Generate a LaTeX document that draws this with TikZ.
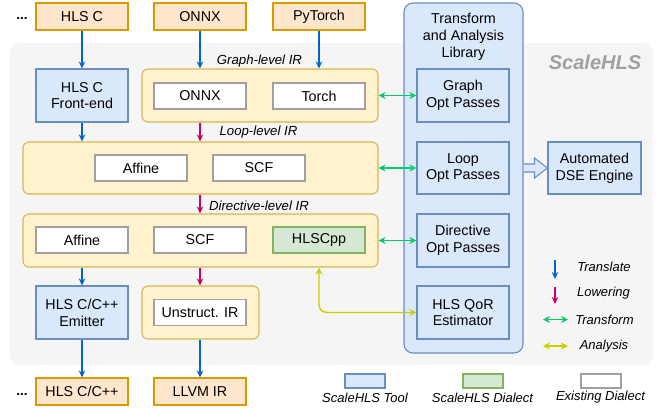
\documentclass[tikz,border=0pt]{standalone}
\usepackage{fontspec}
\setmainfont{Liberation Sans}
\usetikzlibrary{arrows.meta,calc}
\definecolor{orF}{HTML}{FFE6CC}
\definecolor{orD}{HTML}{D79B00}
\definecolor{blF}{HTML}{DAE8FC}
\definecolor{blD}{HTML}{6C8EBF}
\definecolor{ylF}{HTML}{FFF2CC}
\definecolor{ylD}{HTML}{D6B656}
\definecolor{gnF}{HTML}{D5E8D4}
\definecolor{gnD}{HTML}{82B366}
\definecolor{grD}{HTML}{A0A0A0}
\definecolor{bgF}{HTML}{F5F5F5}
\definecolor{trC}{HTML}{0066CC}
\definecolor{lwC}{HTML}{CC0066}
\definecolor{tfC}{HTML}{00CC66}
\definecolor{anC}{HTML}{CCCC00}
\definecolor{shC}{HTML}{A0A0A0}
\begin{document}
\begin{tikzpicture}[x=1pt,y=-1pt,
  box/.style={draw, line width=1.1pt, inner sep=0pt, align=center, text=black,
    font=\fontsize{14.3}{16.8}\selectfont},
  orbox/.style={box, fill=orF, draw=orD, minimum width=92pt, minimum height=27pt},
  blbox/.style={box, fill=blF, draw=blD, minimum width=92pt, minimum height=53pt},
  ylbox/.style={box, fill=ylF, draw=ylD, rounded corners=6pt},
  whbox/.style={box, fill=white, draw=grD, minimum width=92pt, minimum height=26pt},
  gnbox/.style={box, fill=gnF, draw=gnD, minimum width=92pt, minimum height=26pt},
  lbl/.style={font=\fontsize{13.2}{15}\selectfont\itshape, inner sep=0pt},
  lgl/.style={font=\fontsize{13}{15}\selectfont\itshape, inner sep=0pt},
  tr/.style={draw=trC, line width=1.4pt, -{Stealth[length=7pt,width=6.5pt]}},
  lw/.style={draw=lwC, line width=1.4pt, -{Stealth[length=7pt,width=6.5pt]}},
  tf/.style={draw=tfC, line width=1.4pt, {Stealth[length=7pt,width=7pt]}-{Stealth[length=7pt,width=7pt]}},
  an/.style={draw=anC, line width=1.4pt, rounded corners=8pt, {Stealth[length=7pt,width=7pt]}-{Stealth[length=7pt,width=7pt]}}
]
\useasboundingbox (0,0) rectangle (657,408);
% background
\fill[bgF, rounded corners=9pt] (10,43) rectangle (653,365);
\node[font=\fontsize{20}{24}\selectfont\bfseries\itshape, text=shC, inner sep=0pt] (title) at (595,62) {ScaleHLS};

% library
\node[box, fill=blF, draw=blD, rounded corners=9pt, minimum width=119pt, minimum height=350pt] (lib) at (463.5,178) {};
\node[box, draw=none, fill=none] (libt) at (463.5,37) {Transform\\and Analysis\\Library};
\node[blbox] (gopt) at (463,95.5) {Graph\\Opt Passes};
\node[blbox, minimum height=52pt] (lopt) at (463,168) {Loop\\Opt Passes};
\node[blbox] (dopt) at (463,240.5) {Directive\\Opt Passes};
\node[blbox] (qor) at (463,312.5) {HLS QoR\\Estimator};
\node[blbox, minimum width=93pt, minimum height=52pt] (dse) at (594.5,168) {Automated\\DSE Engine};

% inputs
\node[inner sep=0pt, font=\fontsize{13.5}{16}\selectfont\bfseries] (dots1) at (22,18) {...};
\node[orbox] (inHLSC) at (82,16.5) {HLS C};
\node[orbox] (inONNX) at (200,16.5) {ONNX};
\node[orbox] (inPyT) at (319,16.5) {PyTorch};

% graph level
\node[blbox] (fe) at (82,95.5) {HLS C\\Front-end};
\node[ylbox, minimum width=236pt, minimum height=53pt] (graphIR) at (260,95.5) {};
\node[whbox] (gONNX) at (200,96) {ONNX};
\node[whbox] (gTorch) at (319,96) {Torch};
\node[lbl] (glbl) at (259.5,61) {Graph-level IR};

% loop level
\node[ylbox, minimum width=355pt, minimum height=52pt] (loopIR) at (200.5,168) {};
\node[whbox] (lAff) at (141,168) {Affine};
\node[whbox] (lSCF) at (259,168) {SCF};
\node[lbl] (llbl) at (258.5,132) {Loop-level IR};

% directive level
\node[ylbox, minimum width=355pt, minimum height=53pt] (dirIR) at (200.5,240.5) {};
\node[whbox] (dAff) at (82,240) {Affine};
\node[whbox] (dSCF) at (200,240) {SCF};
\node[gnbox] (dHLS) at (319,240) {HLSCpp};
\node[lbl] (dlbl) at (259,205.5) {Directive-level IR};

% lower
\node[blbox] (emit) at (82,312.5) {HLS C/C++\\Emitter};
\node[ylbox, minimum width=117pt, minimum height=53pt] (unst) at (200.5,312.5) {};
\node[whbox] (uIR) at (200,312.5) {Unstruct. IR};

% outputs
\node[inner sep=0pt, font=\fontsize{13.5}{16}\selectfont\bfseries] (dots2) at (22,394) {...};
\node[orbox] (oHLS) at (82,391.5) {HLS C/C++};
\node[orbox] (oLLVM) at (200,391.5) {LLVM IR};

% arrows
\draw[tr] (inHLSC.south) -- (fe.north);
\draw[tr] (inONNX.south) -- (graphIR.north -| inONNX);
\draw[tr] (inPyT.south) -- (graphIR.north -| inPyT);
\draw[tr] (fe.south) -- (loopIR.north -| fe);
\draw[lw] (graphIR.south -| gONNX) -- (loopIR.north -| gONNX);
\draw[lw] (loopIR.south -| gONNX) -- (dirIR.north -| gONNX);
\draw[tr] (dirIR.south -| emit) -- (emit.north);
\draw[lw] (dirIR.south -| uIR) -- (uIR |- unst.north);
\draw[tr] (emit.south) -- (oHLS.north);
\draw[tr] (uIR |- unst.south) -- (oLLVM.north);

\draw[tf] (graphIR.east |- gopt.west) -- (gopt.west);
\draw[tf] (loopIR.east |- lopt.west) -- (lopt.west);
\draw[tf] (dirIR.east |- dopt.west) -- (dopt.west);
\draw[an] (dirIR.south -| dHLS) -- (dHLS |- qor.west) -- (qor.west);

% hollow arrow lib -> dse
\draw[fill=blF, draw=blD, line width=1.1pt]
  ($(lib.east |- dse.west)+(0,-4)$) -- ($(dse.west)+(-13,-4)$) -- ($(dse.west)+(-13,-10)$)
  -- (dse.west) -- ($(dse.west)+(-13,10)$) -- ($(dse.west)+(-13,4)$) -- ($(lib.east |- dse.west)+(0,4)$);

% legend arrows
\coordinate (t1) at (555,260); \coordinate (t2) at (555,279);
\draw[tr] (t1) -- (t2);
\node[lgl] (ltr) at (604,266.5) {Translate};
\coordinate (l1) at (555,287); \coordinate (l2) at (555,304);
\draw[lw] (l1) -- (l2);
\node[lgl] (llw) at (603.5,293.5) {Lowering};
\coordinate (f1) at (543,319.5); \coordinate (f2) at (568,319.5);
\draw[tf] (f1) -- (f2);
\node[lgl] (ltf) at (604.5,319.5) {Transform};
\coordinate (a1) at (543,346); \coordinate (a2) at (568,346);
\draw[an] (a1) -- (a2);
\node[lgl] (lan) at (604,346) {Analysis};

% legend boxes
\node[box, fill=blF, draw=blD, minimum width=40pt, minimum height=14pt] (kb) at (365,381) {};
\node[box, fill=gnF, draw=gnD, minimum width=40pt, minimum height=14pt] (kg) at (483,381) {};
\node[box, fill=white, draw=grD, minimum width=40pt, minimum height=14pt] (kw) at (601,381) {};
\node[lgl] (kbt) at (365,397.5) {ScaleHLS Tool};
\node[lgl] (kgt) at (482.5,397.5) {ScaleHLS Dialect};
\node[lgl] (kwt) at (600.5,397.5) {Existing Dialect};
\end{tikzpicture}
\end{document}
